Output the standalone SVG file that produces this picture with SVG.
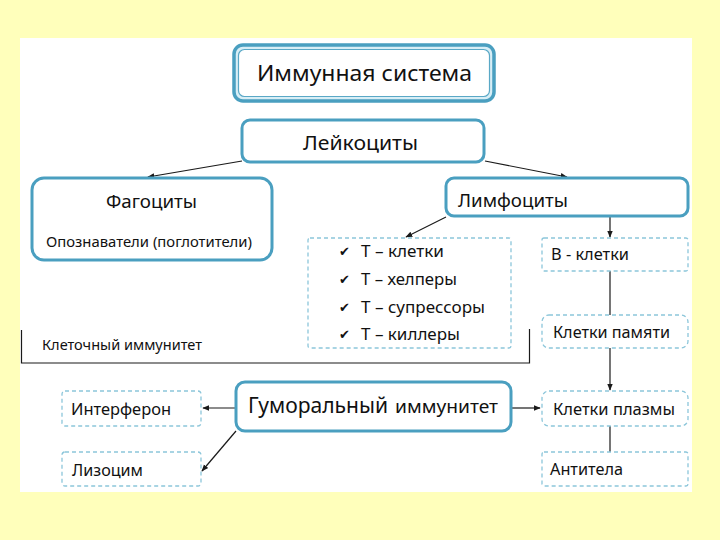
<svg xmlns="http://www.w3.org/2000/svg" width="720" height="540" viewBox="0 0 720 540">
<style>
.t{font-family:"Noto Sans","Open Sans","DejaVu Sans",sans-serif;fill:#111}
.solid{fill:#fff;stroke:#4a9fc0;stroke-width:3}
.dash{fill:#fff;stroke:#8cc6da;stroke-width:1.3;stroke-dasharray:4 3}
.ln{stroke:#1a1a1a;stroke-width:1.2;fill:none}
.ck{font-family:"DejaVu Sans",sans-serif;fill:#111;font-size:13px}
</style>
<defs>
<marker id="ah" viewBox="0 0 10 10" refX="9" refY="5" markerWidth="7" markerHeight="7" orient="auto" markerUnits="userSpaceOnUse">
<path d="M0,1 L10,5 L0,9 z" fill="#1a1a1a"/>
</marker>
</defs>
<rect width="720" height="540" fill="#ffffbb"/>
<rect x="20" y="38" width="672" height="454" fill="#fff"/>

<g id="connectors">
<line class="ln" x1="242" y1="161" x2="148" y2="177" marker-end="url(#ah)"/>
<line class="ln" x1="485" y1="161" x2="567" y2="177" marker-end="url(#ah)"/>
<line class="ln" x1="446" y1="217" x2="406" y2="237" marker-end="url(#ah)"/>
<line class="ln" x1="610" y1="216" x2="610" y2="237" marker-end="url(#ah)"/>
<line class="ln" x1="610" y1="271" x2="610" y2="315"/>
<line class="ln" x1="610" y1="348" x2="610" y2="390" marker-end="url(#ah)"/>
<line class="ln" x1="610" y1="426" x2="610" y2="452"/>
<line class="ln" x1="236" y1="408" x2="203" y2="408" marker-end="url(#ah)"/>
<line class="ln" x1="236" y1="431" x2="202" y2="471" marker-end="url(#ah)"/>
<line class="ln" x1="511" y1="408" x2="540" y2="408" marker-end="url(#ah)"/>
<polyline class="ln" points="21.5,330 21.5,363 529.5,363 529.5,329"/>
</g>

<g id="cell-immunity-label">
<text class="t" x="42" y="350" font-size="13.5" textLength="160" lengthAdjust="spacingAndGlyphs">Клеточный иммунитет</text>
</g>

<g id="immune-system">
<rect x="234" y="45" width="260" height="56" rx="9" fill="#d8eef6" stroke="#4a9fc0" stroke-width="3.5"/>
<rect x="238.5" y="49.5" width="251" height="47" rx="6" fill="#fff" stroke="#5aa8c6" stroke-width="1.2"/>
<text class="t" x="257" y="81" font-size="21" textLength="215" lengthAdjust="spacingAndGlyphs">Иммунная система</text>
</g>

<g id="leukocytes">
<rect class="solid" x="242" y="120" width="242" height="42" rx="8"/>
<text class="t" x="303" y="150" font-size="19" textLength="115" lengthAdjust="spacingAndGlyphs">Лейкоциты</text>
</g>

<g id="phagocytes">
<rect class="solid" x="32" y="178" width="240" height="82" rx="12"/>
<text class="t" x="106" y="208" font-size="18" textLength="91" lengthAdjust="spacingAndGlyphs">Фагоциты</text>
<text class="t" x="46" y="247" font-size="14" textLength="206" lengthAdjust="spacingAndGlyphs">Опознаватели (поглотители)</text>
</g>

<g id="lymphocytes">
<rect class="solid" x="446" y="178" width="242" height="38" rx="8"/>
<text class="t" x="458" y="207" font-size="18.5" textLength="110" lengthAdjust="spacingAndGlyphs">Лимфоциты</text>
</g>

<g id="t-cells">
<rect class="dash" x="308" y="238" width="203" height="110" rx="2"/>
<text class="ck" x="339" y="256">✔</text>
<text class="t" x="361" y="257" font-size="16" textLength="83" lengthAdjust="spacingAndGlyphs">Т – клетки</text>
<text class="ck" x="339" y="284">✔</text>
<text class="t" x="361" y="285" font-size="16" textLength="96" lengthAdjust="spacingAndGlyphs">Т – хелперы</text>
<text class="ck" x="339" y="312">✔</text>
<text class="t" x="361" y="313" font-size="16" textLength="124" lengthAdjust="spacingAndGlyphs">Т – супрессоры</text>
<text class="ck" x="339" y="339">✔</text>
<text class="t" x="361" y="340" font-size="16" textLength="99" lengthAdjust="spacingAndGlyphs">Т – киллеры</text>
</g>

<g id="b-cells">
<rect class="dash" x="542" y="238" width="146" height="33" rx="2"/>
<text class="t" x="551" y="260" font-size="16" textLength="78" lengthAdjust="spacingAndGlyphs">В - клетки</text>
</g>

<g id="memory-cells">
<rect class="dash" x="542" y="315" width="146" height="33" rx="7"/>
<text class="t" x="553" y="338" font-size="16" textLength="117" lengthAdjust="spacingAndGlyphs">Клетки памяти</text>
</g>

<g id="plasma-cells">
<rect class="dash" x="542" y="391" width="146" height="35" rx="7"/>
<text class="t" x="553" y="415" font-size="16" textLength="122" lengthAdjust="spacingAndGlyphs">Клетки плазмы</text>
</g>

<g id="antibodies">
<rect class="dash" x="542" y="452" width="146" height="34" rx="2"/>
<text class="t" x="550" y="475" font-size="16" textLength="73" lengthAdjust="spacingAndGlyphs">Антитела</text>
</g>

<g id="humoral">
<rect class="solid" x="236" y="382" width="275" height="49" rx="9"/>
<text class="t" x="248" y="413" font-size="22" textLength="140" lengthAdjust="spacingAndGlyphs">Гуморальный</text>
<text class="t" x="395" y="413" font-size="17.5" textLength="103" lengthAdjust="spacingAndGlyphs">иммунитет</text>
</g>

<g id="interferon">
<rect class="dash" x="62" y="391" width="139" height="35" rx="3"/>
<text class="t" x="71" y="415" font-size="16" textLength="100" lengthAdjust="spacingAndGlyphs">Интерферон</text>
</g>

<g id="lysozyme">
<rect class="dash" x="62" y="452" width="139" height="34" rx="3"/>
<text class="t" x="72" y="476" font-size="16" textLength="71" lengthAdjust="spacingAndGlyphs">Лизоцим</text>
</g>
</svg>
